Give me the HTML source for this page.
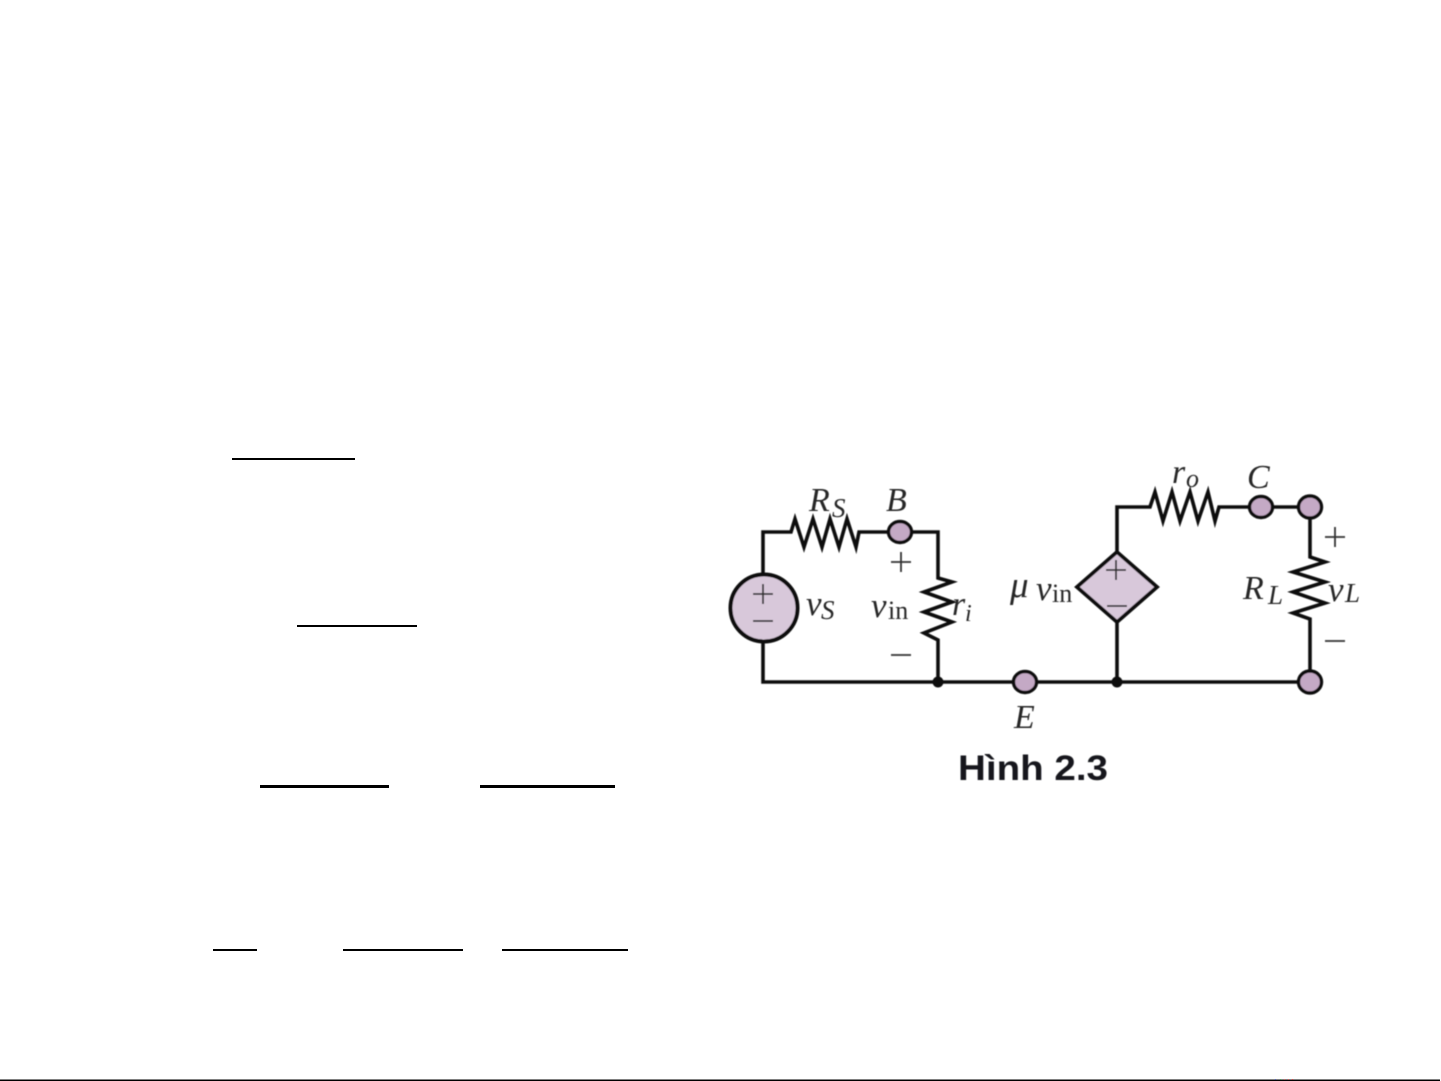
<!DOCTYPE html>
<html>
<head>
<meta charset="utf-8">
<style>
html,body{margin:0;padding:0;background:#fff;width:1441px;height:1081px;overflow:hidden}
svg{display:block}
.i{font-family:"Liberation Serif",serif;font-style:italic;fill:#262626}
.u{font-family:"Liberation Serif",serif;fill:#262626}
</style>
</head>
<body>
<svg width="1441" height="1081" viewBox="0 0 1441 1081" xmlns="http://www.w3.org/2000/svg">
<defs><filter id="b" filterUnits="userSpaceOnUse" x="700" y="440" width="700" height="360"><feGaussianBlur stdDeviation="0.45"/></filter></defs>
<rect width="1441" height="1081" fill="#fff"/>
<!-- formula rules -->
<g fill="#000">
<rect x="232" y="458" width="123" height="2"/>
<rect x="297" y="625" width="120" height="2"/>
<rect x="260" y="785" width="129" height="3"/>
<rect x="480" y="785" width="135" height="3"/>
<rect x="213" y="949" width="44" height="2"/>
<rect x="343" y="949" width="120" height="2"/>
<rect x="502" y="949" width="126" height="2"/>
<rect x="0" y="1079.5" width="1440" height="1.5"/>
</g>
<g>
<rect x="1275" y="1079" width="1" height="1" fill="#5060c0"/>
<rect x="1280" y="1079" width="1" height="1" fill="#50a060"/>
<rect x="1284" y="1079" width="1" height="1" fill="#d06060"/>
<rect x="1288" y="1079" width="1" height="1" fill="#d06060"/>
<rect x="1292" y="1079" width="1" height="1" fill="#e04040"/>
</g>
<g filter="url(#b)">
<!-- wires -->
<g fill="none" stroke="#111" stroke-width="3.6" stroke-linejoin="miter">
<polyline points="763,576 763,532 791,532 795,519 804,547 813,519 822,547 830,519 839,547 847,519 856,547 859,532 888,532"/>
<polyline points="912,532 938,532 938,578 952,582 924,592 952,602 924,612 952,622 924,633 938,640 938,682"/>
<polyline points="763,640 763,682 1013,682"/>
<polyline points="1037,682 1298,682"/>
<polyline points="1117,552 1117,507 1150,507 1155,492 1163,521 1172,492 1180,521 1190,492 1198,521 1208,492 1215,521 1219,507 1249,507"/>
<line x1="1273" y1="507" x2="1298" y2="507"/>
<polyline points="1310,519 1310,557 1325,562 1293,572 1325,582 1293,592 1325,603 1293,613 1310,619 1310,670"/>
<line x1="1117" y1="622" x2="1117" y2="682"/>
</g>
<!-- components -->
<circle cx="764" cy="608" r="33.5" fill="#d8c8da" stroke="#111" stroke-width="4"/>
<polygon points="1117,552 1157,587 1117,622 1077,587" fill="#d8c8da" stroke="#111" stroke-width="3.8"/>
<g fill="#c4a9c5" stroke="#111" stroke-width="3.4">
<ellipse cx="900" cy="532" rx="11.5" ry="10.5"/>
<ellipse cx="1025" cy="682" rx="11.5" ry="10.5"/>
<ellipse cx="1261" cy="507" rx="11.5" ry="10.5"/>
<ellipse cx="1310" cy="507" rx="11.5" ry="11"/>
<ellipse cx="1310" cy="682" rx="11.5" ry="11"/>
</g>
<circle cx="938" cy="682" r="5.5" fill="#111"/>
<circle cx="1117" cy="682" r="5.5" fill="#111"/>
<!-- signs -->
<g stroke="#333" stroke-width="1.8" fill="none">
<path d="M753 594H773M763 584V604"/>
<path d="M753 621H773"/>
<path d="M891 562H911M901 552V572"/>
<path d="M891 655H911"/>
<path d="M1106 570H1126M1116 560V580"/>
<path d="M1107 606H1127"/>
<path d="M1325 537H1345M1335 527V547"/>
<path d="M1325 641H1345"/>
</g>
<!-- labels -->
<text class="i" x="809" y="511" font-size="34">R</text>
<text class="i" x="832" y="517" font-size="27">S</text>
<text class="i" x="886" y="511" font-size="34">B</text>
<text class="i" x="806" y="615" font-size="35">v</text>
<text class="i" x="821" y="619" font-size="27">S</text>
<text class="i" x="871" y="617" font-size="35">v</text>
<text class="u" x="888" y="619" font-size="26">in</text>
<text class="i" x="952" y="615" font-size="34">r</text>
<text class="i" x="965" y="621" font-size="24">i</text>
<text class="i" x="1014" y="728" font-size="34">E</text>
<text class="i" x="1010" y="597" font-size="37">μ</text>
<text class="i" x="1036" y="600" font-size="35">v</text>
<text class="u" x="1052" y="602" font-size="26">in</text>
<text class="i" x="1172" y="483" font-size="34">r</text>
<text class="i" x="1186" y="487" font-size="26">o</text>
<text class="i" x="1247" y="488" font-size="34">C</text>
<text class="i" x="1243" y="599" font-size="34">R</text>
<text class="i" x="1268" y="604" font-size="27">L</text>
<text class="i" x="1328" y="601" font-size="35">v</text>
<text class="i" x="1345" y="602" font-size="27">L</text>
<text x="958" y="780" font-family="'Liberation Sans',sans-serif" font-weight="bold" font-size="35" fill="#14191e" textLength="150" lengthAdjust="spacingAndGlyphs">Hình 2.3</text>
</g>
</svg>
</body>
</html>
